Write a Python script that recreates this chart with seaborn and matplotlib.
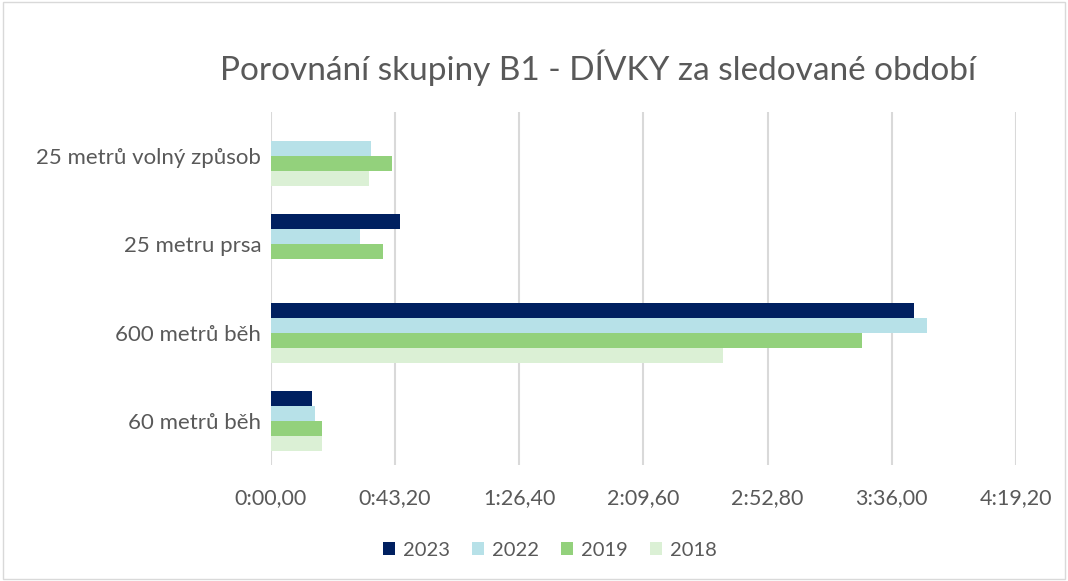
import numpy as np
import pandas as pd
import matplotlib
matplotlib.use('Agg')
import matplotlib.pyplot as plt
from matplotlib.ticker import FuncFormatter, MultipleLocator
import seaborn as sns

# times in seconds
disciplines = ['25 metrů volný způsob', '25 metru prsa', '600 metrů běh', '60 metrů běh']
years = ['2023', '2022', '2019', '2018']
t2023 = [np.nan, 45.0, 223.6, 14.2]
t2022 = [34.8, 31.0, 228.3, 15.4]
t2019 = [42.0, 38.9, 205.7, 17.8]
t2018 = [34.0, np.nan, 157.4, 17.8]
colors = ['#002060', '#B7E1E8', '#93D17C', '#DBF0D5']


def fmt_time(x, pos):
    m = int(x // 60)
    s = x - m * 60
    return f'{m}:{s:05.2f}'.replace('.', ',')


def main():
    rows = []
    for year, vals in zip(years, [t2023, t2022, t2019, t2018]):
        for d, v in zip(disciplines, vals):
            rows.append({'Disciplína': d, 'Rok': year, 'Čas': v})
    df = pd.DataFrame(rows)

    sns.set_style('white')
    plt.rcParams['font.family'] = ['Lato', 'DejaVu Sans']

    fig = plt.figure(figsize=(10.68, 5.81), dpi=100)
    ax = fig.add_axes([0.2537, 0.1997, 0.6976, 0.6075])
    sns.barplot(data=df, y='Disciplína', x='Čas', hue='Rok', order=disciplines,
                hue_order=years, palette=colors, orient='h', width=0.68,
                errorbar=None, ax=ax, saturation=1, edgecolor='none')

    ax.set_xlim(0, 259.2)
    ax.xaxis.set_major_locator(MultipleLocator(43.2))
    ax.xaxis.set_major_formatter(FuncFormatter(fmt_time))
    ax.grid(axis='x', color='#D9D9D9', linewidth=1.5)
    ax.set_axisbelow(True)
    for s in ax.spines.values():
        s.set_visible(False)
    ax.set_xlabel('')
    ax.set_ylabel('')
    ax.tick_params(axis='x', labelsize=15.5, colors='#595959', length=0, pad=17)
    ax.tick_params(axis='y', labelsize=16, colors='#595959', length=0, pad=7)

    fig.suptitle('Porovnání skupiny B1 - DÍVKY za sledované období',
                 x=0.56, y=0.915, fontsize=24, color='#595959')

    ax.legend(loc='center', bbox_to_anchor=(0.515, 0.053),
              bbox_transform=fig.transFigure, ncol=4, frameon=False,
              fontsize=14.5, handlelength=0.6, handleheight=0.6,
              handletextpad=0.4, columnspacing=1.1, labelcolor='#595959')

    fig.patches.append(plt.Rectangle((0.003, 0.003), 0.994, 0.994,
                                     transform=fig.transFigure, fill=False,
                                     edgecolor='#D9D9D9', linewidth=1))
    fig.savefig('out.png', dpi=100)
    plt.close(fig)


if __name__ == '__main__':
    main()
